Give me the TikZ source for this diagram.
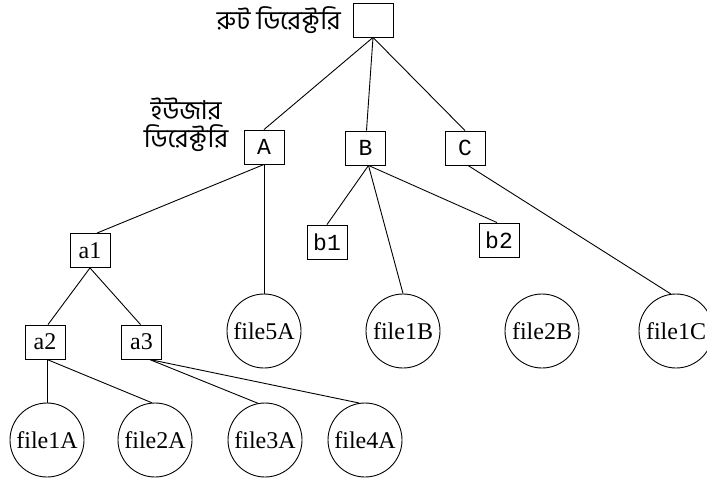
\documentclass[tikz,border=0pt]{standalone}
\usepackage{fontspec}
\setmainfont{Liberation Serif}
\newfontfamily\bnfont[Script=Bengali]{Hind Siliguri}
\newfontfamily\monofont{Liberation Mono}
\begin{document}
\begin{tikzpicture}[x=1pt,y=-1pt,
  dirbox/.style={draw,line width=0.9pt,inner sep=0pt,minimum width=40pt,minimum height=34pt,font=\fontsize{24}{24}\selectfont},
  mbox/.style={dirbox,font=\monofont\fontsize{23}{23}\selectfont},
  filec/.style={draw,circle,line width=0.9pt,inner sep=0pt,minimum size=74pt,font=\fontsize{24}{24}\selectfont},
  lbl/.style={font=\bnfont\fontsize{26}{28}\selectfont,inner sep=0pt,align=center},
  conn/.style={line width=0.9pt}]
\useasboundingbox (0,0) rectangle (707,482);
\fill[white] (0,0) rectangle (707,482);
% directories
\node[dirbox] (root) at (373,20) {};
\node[mbox] (A) at (264,147) {A};
\node[mbox] (B) at (365.5,148) {B};
\node[mbox] (C) at (465,148) {C};
\node[dirbox] (a1) at (90,250.5) {a1};
\node[dirbox] (a2) at (45,342) {a2};
\node[dirbox] (a3) at (141.5,342) {a3};
\node[mbox] (b1) at (327,242) {b1};
\node[mbox] (b2) at (499,240) {b2};
% files
\node[filec] (f5A) at (264,331) {file5A};
\node[filec] (f1B) at (403,331) {file1B};
\node[filec] (f2B) at (542,331) {file2B};
\node[filec] (f1C) at (676,331) {file1C};
\node[filec] (f1A) at (47,440) {file1A};
\node[filec] (f2A) at (155,440) {file2A};
\node[filec] (f3A) at (265,440) {file3A};
\node[filec] (f4A) at (365,440) {file4A};
% labels
\node[lbl,anchor=east] (rootlbl) at (341,20) {রুট ডিরেক্টরি};
\node[lbl] (userlbl) at (186,125) {ইউজার\\ডিরেক্টরি};
% connectors
\draw[conn] (root.south) -- (A.north);
\draw[conn] (root.south) -- ([xshift=1pt]B.north);
\draw[conn] (root.south) -- (C.north);
\draw[conn] (A.south) -- ([xshift=7pt]a1.north);
\draw[conn] (A.south) -- (f5A.north);
\draw[conn] (a1.south) -- ([xshift=3pt]a2.north);
\draw[conn] (a1.south) -- ([xshift=-1pt]a3.north);
\draw[conn] ([xshift=2pt]a2.south) -- (f1A.north);
\draw[conn] ([xshift=2pt]a2.south) -- (f2A.95);
\draw[conn] ([xshift=8pt]a3.south) -- (f3A.101);
\draw[conn] ([xshift=8pt]a3.south) -- (f4A.99);
\draw[conn] ([xshift=3pt]B.south) -- (b1.north);
\draw[conn] ([xshift=3pt]B.south) -- ([xshift=-2pt]b2.north);
\draw[conn] ([xshift=3pt]B.south) -- (f1B.north);
\draw[conn] ([xshift=3pt]C.south) -- (f1C.98);
\end{tikzpicture}
\end{document}
